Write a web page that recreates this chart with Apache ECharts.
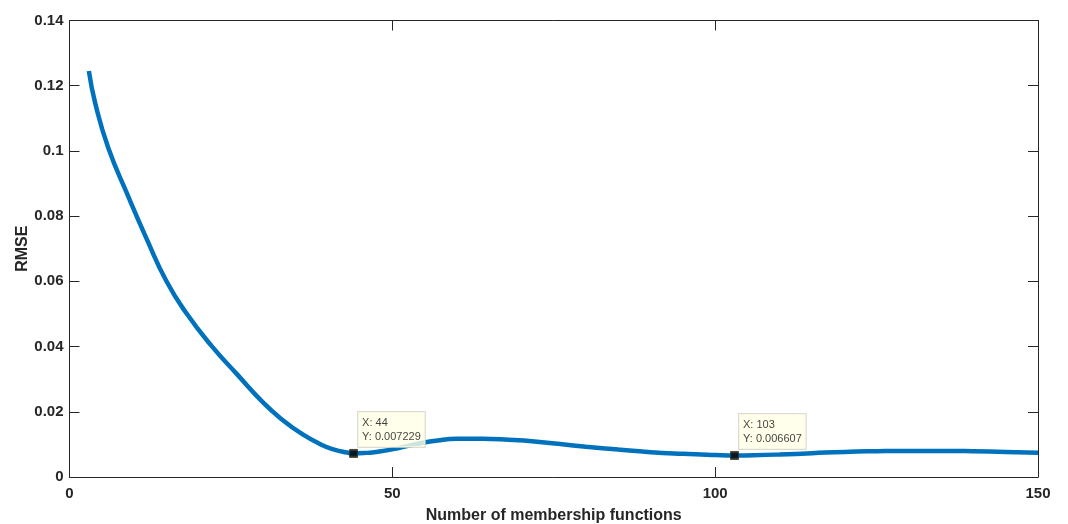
<!DOCTYPE html>
<html>
<head>
<meta charset="utf-8">
<script src="https://cdn.jsdelivr.net/npm/echarts@6/dist/echarts.min.js"></script>
<style>
  html, body { margin: 0; padding: 0; background: #fff; }
  #chart { width: 1068px; height: 524px; }
</style>
</head>
<body>
<div id="chart"></div>
<script>
// RMSE as a function of the number of membership functions
const mfCounts = [3, 4, 6, 9, 12, 15, 18, 22, 26, 30, 33, 36, 39, 41, 43, 44, 46, 48, 51, 54, 57, 60, 64, 68, 72, 76, 80, 85, 90, 95, 100, 103, 106, 110, 115, 120, 125, 130, 135, 140, 145, 150];
const rmseValues = [0.1245, 0.1145, 0.1010, 0.0865, 0.0728, 0.0601, 0.0505, 0.0402, 0.0314, 0.0228, 0.0175, 0.0132, 0.0099, 0.0084, 0.00752, 0.007229, 0.00740, 0.0078, 0.0089, 0.0102, 0.0112, 0.0117, 0.0117, 0.0114, 0.0109, 0.0101, 0.0093, 0.0084, 0.0076, 0.0071, 0.00675, 0.006607, 0.00667, 0.0069, 0.0073, 0.0077, 0.0079, 0.0080, 0.0080, 0.0079, 0.0077, 0.0074];

// highlighted data tips
const tipX = [44, 103];
const tipY = [0.007229, 0.006607];

const xTicks = [0, 50, 100, 150];
const yTicks = [0, 0.02, 0.04, 0.06, 0.08, 0.1, 0.12, 0.14];

const ink = '#262626';
const font = 'Liberation Sans, Arial, Helvetica, sans-serif';

const chart = echarts.init(document.getElementById('chart'), null, { renderer: 'canvas' });

const baseAxis = {
  axisLine: { show: true, onZero: false, lineStyle: { color: ink, width: 1 } },
  axisTick: { show: true, inside: true, length: 10, lineStyle: { color: ink, width: 1 } },
  splitLine: { show: false }
};

chart.setOption({
  animation: false,
  backgroundColor: '#ffffff',
  grid: { left: 69.5, right: 30, top: 20.5, bottom: 47, containLabel: false, outerBoundsMode: 'none' },
  xAxis: [
    Object.assign({}, baseAxis, {
      type: 'value', min: xTicks[0], max: xTicks[xTicks.length - 1], interval: 50,
      position: 'bottom',
      name: 'Number of membership functions', nameLocation: 'middle', nameGap: 31, nameMoveOverlap: false,
      nameTextStyle: { color: ink, fontFamily: font, fontWeight: 'bold', fontSize: 16 },
      axisLabel: { color: ink, fontFamily: font, fontWeight: 'bold', fontSize: 15, margin: 9,
        formatter: v => String(v) }
    }),
    Object.assign({}, baseAxis, {
      type: 'value', min: xTicks[0], max: xTicks[xTicks.length - 1], interval: 50,
      position: 'top', axisLabel: { show: false }
    })
  ],
  yAxis: [
    Object.assign({}, baseAxis, {
      type: 'value', min: yTicks[0], max: yTicks[yTicks.length - 1], interval: 0.02,
      position: 'left',
      name: 'RMSE', nameLocation: 'middle', nameGap: 39, nameMoveOverlap: false,
      nameTextStyle: { color: ink, fontFamily: font, fontWeight: 'bold', fontSize: 16 },
      axisLabel: { color: ink, fontFamily: font, fontWeight: 'bold', fontSize: 15, margin: 6,
        formatter: v => String(Math.round(v * 100) / 100) }
    }),
    Object.assign({}, baseAxis, {
      type: 'value', min: yTicks[0], max: yTicks[yTicks.length - 1], interval: 0.02,
      position: 'right', axisLabel: { show: false }
    })
  ],
  series: [
    {
      type: 'line',
      data: mfCounts.map((x, i) => [x, rmseValues[i]]),
      smooth: 0.5,
      showSymbol: false,
      lineStyle: { color: '#0072BD', width: 4.5 },
      z: 2
    },
    {
      type: 'scatter',
      data: tipX.map((x, i) => [x, tipY[i]]),
      symbol: 'rect',
      symbolSize: 8,
      itemStyle: { color: '#000000', borderColor: '#3a3a20', borderWidth: 1 },
      label: {
        show: true,
        position: [9, -37],
        formatter: p => 'X: ' + p.value[0] + '\nY: ' + p.value[1],
        backgroundColor: '#FFFFE6',
        borderColor: '#D2D2C8',
        borderWidth: 1,
        padding: [4, 4, 3, 4],
        color: '#111111',
        fontFamily: font,
        fontSize: 11,
        lineHeight: 14,
        align: 'left',
        verticalAlign: 'top'
      },
      z: 5
    }
  ]
});
</script>
</body>
</html>
